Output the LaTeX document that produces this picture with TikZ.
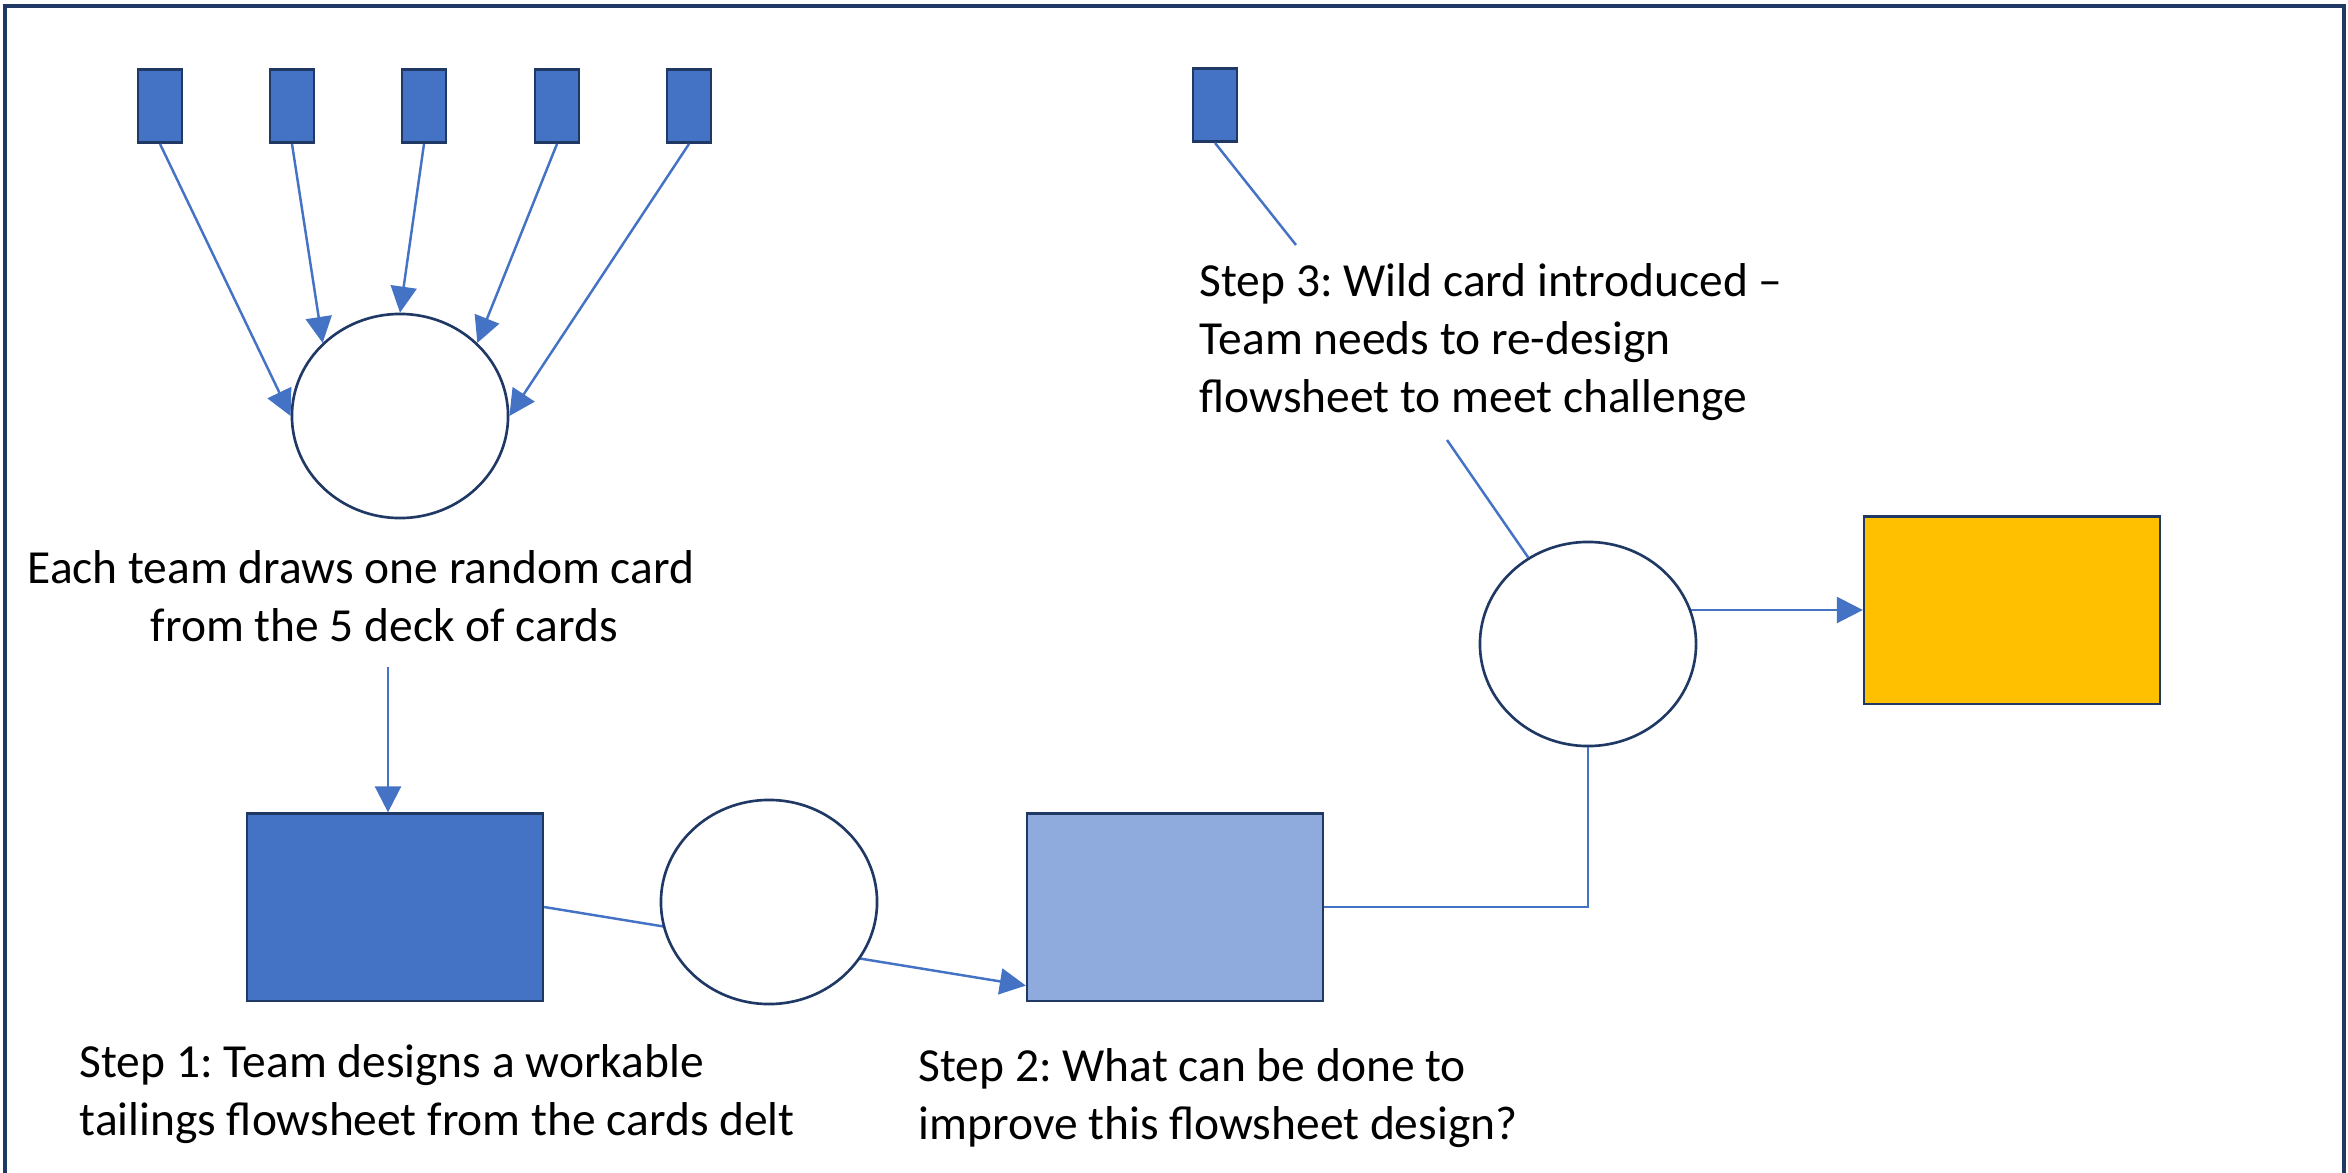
\documentclass[tikz,border=0pt]{standalone}
\usepackage{fontspec}
\setmainfont{Carlito}
\usetikzlibrary{arrows.meta,shapes.geometric,backgrounds}
\definecolor{cardblue}{RGB}{68,114,196}
\definecolor{paleblue}{RGB}{143,170,220}
\definecolor{wildgold}{RGB}{255,192,0}
\definecolor{navy}{RGB}{31,56,100}
\frenchspacing

\begin{document}
\begin{tikzpicture}[x=0.01cm,y=-0.01cm]

%
% Styles
%
\tikzstyle{card}  = [rectangle,draw=navy,fill=cardblue,line width=0.8pt,minimum width=0.44cm,minimum height=0.73cm,inner sep=0pt]
\tikzstyle{pool}  = [ellipse,draw=navy,fill=white,line width=0.75pt,minimum width=2.16cm,minimum height=2.04cm,inner sep=0pt]
\tikzstyle{sheet} = [rectangle,draw=navy,line width=0.6pt,minimum width=2.96cm,minimum height=1.87cm,inner sep=0pt]
\tikzstyle{link}  = [->,>={Triangle[length=2.6mm,width=2.6mm]},draw=cardblue,line width=0.7pt]
\tikzstyle{wire}  = [draw=cardblue,line width=0.7pt]
\tikzstyle{note}  = [anchor=base west,align=left,inner sep=0pt,font=\fontsize{13.5pt}{16.4pt}\selectfont]

\useasboundingbox (0,0) rectangle (2348,1173);
\draw[navy,line width=1.2pt] (5,1173) -- (5,6) -- (2344,6) -- (2344,1173);

% deck of cards
\foreach \i/\x in {1/160,2/292,3/424,4/557,5/689}
  \node[card] (card\i) at (\x,106) {};
\node[pool] (draw) at (400,416) {};
\foreach \i/\a in {1/west,2/north west,3/north,4/north east,5/east}
  \draw[link] (card\i.south) -- (draw.\a);

% (base of a note = base of its last line)
\node[note] (deal) at (27,641) {Each team draws one random card\\\hspace*{1.23cm}from the 5 deck of cards};

% flowsheets
\node[sheet,fill=cardblue] (first)  at (395,907) {};
\node[sheet,fill=paleblue] (second) at (1175,907) {};
\node[sheet,fill=wildgold] (final)  at (2012,610) {};
\node[pool] (improve) at (769,902) {};
\node[pool] (redo)    at (1588,644) {};

\coordinate (dealend) at (388,667);
\draw[link] (dealend) -- (dealend |- first.north);
\begin{pgfonlayer}{background}
  \draw[link] (first.east) -- ([yshift=0.16cm]second.south west);
  \draw[link] (final.west -| redo) -- (final.west);
\end{pgfonlayer}
\draw[wire] (second.east) -| (redo.south);

\node[note] (step1) at (79,1135) {Step 1: Team designs a workable\\tailings flowsheet from the cards delt};
\node[note] (step2) at (918,1139) {Step 2: What can be done to\\improve this flowsheet design?};

% wild card
\node[card] (wild) at (1215,105) {};
\coordinate (wildend) at (1296,245);
\draw[wire] (wild.south) -- (wildend);
\node[note] (step3) at (1199,412) {Step 3: Wild card introduced \textendash\\Team needs to re-design\\flowsheet to meet challenge};
\coordinate (step3end) at (1447,440);
\draw[wire] (step3end) -- (redo);

\end{tikzpicture}
\end{document}
